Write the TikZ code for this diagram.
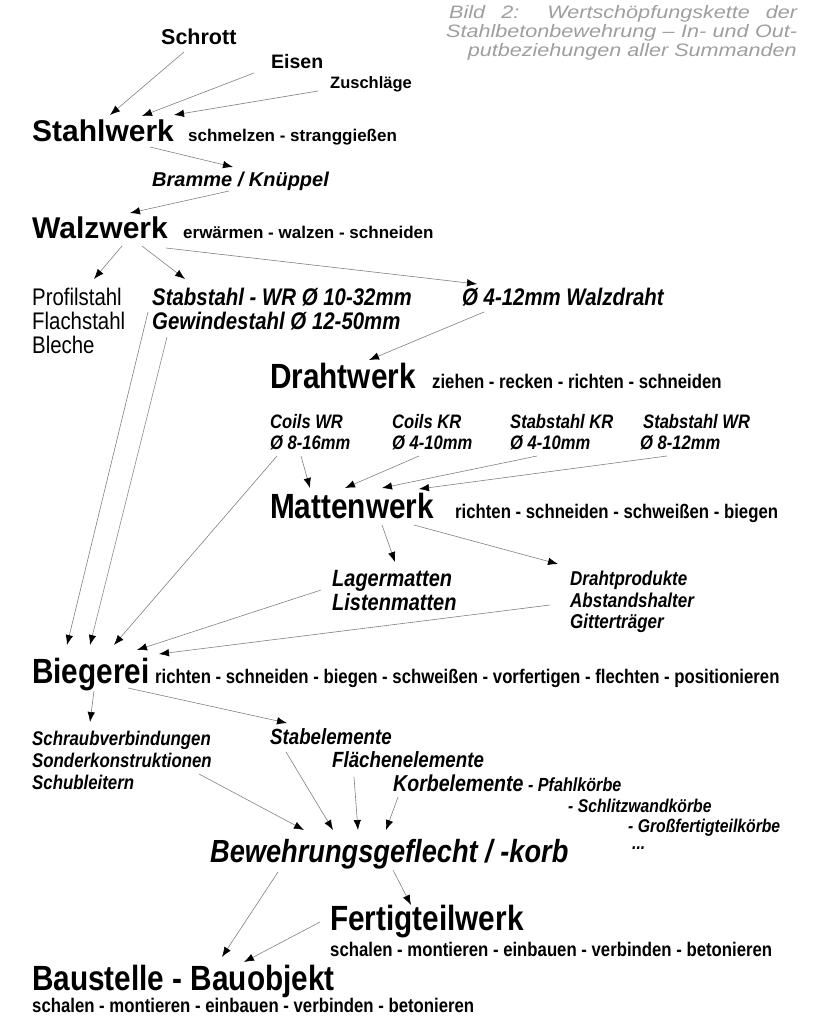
\documentclass[tikz,border=0pt]{standalone}
\usepackage{fontspec}
\setmainfont{Liberation Sans}
\newfontfamily\narrowsans[FakeStretch=0.85]{Liberation Sans}
\newfontfamily\captionsans[FakeStretch=1.2]{Liberation Sans}
\usetikzlibrary{arrows.meta}
\tikzset{
  > = {Latex[length=10pt, width=7.5pt, color=black]},
  lbl/.style = {anchor=base west, inner sep=0pt},
  flow/.style = {->, draw=black!50, line width=0.6pt},
  plant/.style = {lbl, font=\bfseries\fontsize{30}{32}\selectfont},
  nplant/.style = {lbl, font=\narrowsans\bfseries\fontsize{35}{38}\selectfont},
  tasks/.style = {lbl, font=\bfseries\fontsize{17}{19}\selectfont},
  ntasks/.style = {lbl, font=\narrowsans\bfseries\fontsize{19.7}{21}\selectfont},
  feed/.style = {lbl, font=\bfseries\fontsize{#1}{#1}\selectfont},
  product/.style = {lbl, font=\bfseries\itshape\fontsize{#1}{#1}\selectfont},
  nproduct/.style = {lbl, font=\narrowsans\bfseries\itshape\fontsize{#1}{#1}\selectfont},
  nplain/.style = {lbl, font=\narrowsans\fontsize{24}{26}\selectfont},
  captext/.style = {lbl, text=black!38, font=\captionsans\itshape\fontsize{18}{20}\selectfont},
}

\begin{document}
\begin{tikzpicture}[x=1pt, y=-1pt]
  \useasboundingbox (0,0) rectangle (819,1018);

  %% caption
  \node[captext] (cap1) at (449,18) {\makebox[348pt][s]{Bild 2: Wertschöpfungskette der}};
  \node[captext] (cap2) at (446,37) {\makebox[351pt][s]{Stahlbetonbewehrung – In- und Out-}};
  \node[captext, anchor=base east] (cap3) at (797,56) {putbeziehungen aller Summanden};

  % steel plant and its inputs
  \node[feed=21.5] (schrott) at (161,44) {Schrott};
  \node[feed=19.5] (eisen) at (271,68) {Eisen};
  \node[feed=16.5] (zuschlag) at (330,88) {Zuschläge};
  \node[plant] (stahlwerk) at (32,141) {Stahlwerk};
  \node[tasks] (stahlwerkT) at (188,141) {schmelzen - stranggießen};
  \node[product=20] (bramme) at (152,186) {Bramme / Knüppel};

  % rolling mill
  \node[plant] (walzwerk) at (32,238) {Walzwerk};
  \node[tasks] (walzwerkT) at (183,238) {erwärmen - walzen - schneiden};
  \node[nplain] (profil) at (32,305) {Profilstahl};
  \node[nplain] (flach) at (32,329) {Flachstahl};
  \node[nplain] (bleche) at (32,353) {Bleche};
  \node[nproduct=24] (stabstahl) at (152,305) {Stabstahl - WR Ø 10-32mm};
  \node[nproduct=24] (gewinde) at (152,329) {Gewindestahl Ø 12-50mm};
  \node[nproduct=24] (walzdraht) at (462,305) {Ø 4-12mm Walzdraht};

  % wire mill
  \node[nplant] (drahtwerk) at (270,388) {Drahtwerk};
  \node[ntasks] (drahtwerkT) at (432,388) {ziehen - recken - richten - schneiden};
  \node[nproduct=19.5] (coilsWR) at (270,428) {Coils WR};
  \node[nproduct=19.5] (coilsWRd) at (270,449) {Ø 8-16mm};
  \node[nproduct=19.5] (coilsKR) at (392,428) {Coils KR};
  \node[nproduct=19.5] (coilsKRd) at (392,449) {Ø 4-10mm};
  \node[nproduct=19.5] (stabKR) at (510,428) {Stabstahl KR};
  \node[nproduct=19.5] (stabKRd) at (510,449) {Ø 4-10mm};
  \node[nproduct=19.5] (stabWR) at (643,428) {Stabstahl WR};
  \node[nproduct=19.5] (stabWRd) at (640,449) {Ø 8-12mm};

  % mesh plant
  \node[nplant] (mattenwerk) at (270,518) {Mattenwerk};
  \node[ntasks] (mattenwerkT) at (455,518) {richten - schneiden - schweißen - biegen};
  \node[nproduct=23.5] (lager) at (332,586) {Lagermatten};
  \node[nproduct=23.5] (listen) at (332,610) {Listenmatten};
  \node[nproduct=20] (drahtprod) at (570,585) {Drahtprodukte};
  \node[nproduct=20] (abstand) at (570,607) {Abstandshalter};
  \node[nproduct=20] (gitter) at (570,628) {Gitterträger};

  % bending shop
  \node[nplant] (biegerei) at (32,683) {Biegerei};
  \node[ntasks] (biegereiT) at (155,683) {richten - schneiden - biegen - schweißen - vorfertigen - flechten - positionieren};
  \node[nproduct=19.8] (schraub) at (32,745) {Schraubverbindungen};
  \node[nproduct=19.8] (sonder) at (32,767) {Sonderkonstruktionen};
  \node[nproduct=19.8] (schub) at (32,789) {Schubleitern};
  \node[nproduct=22] (stabel) at (270,744) {Stabelemente};
  \node[nproduct=22] (flaechen) at (332,767) {Flächenelemente};
  \node[nproduct=23] (korb) at (393,791) {Korbelemente{\fontsize{19}{20}\selectfont{} - Pfahlkörbe}};
  \node[nproduct=18.5] (schlitz) at (568,812) {- Schlitzwandkörbe};
  \node[nproduct=18.5] (gross) at (628,832) {- Großfertigteilkörbe};
  \node[nproduct=18.5] (more) at (632,849) {...};

  % cage, precast plant and site
  \node[nproduct=32] (geflecht) at (210,862) {Bewehrungsgeflecht / -korb};
  \node[nplant] (fertig) at (330,930) {Fertigteilwerk};
  \node[ntasks] (fertigT) at (330,956) {schalen - montieren - einbauen - verbinden - betonieren};
  \node[nplant] (baustelle) at (32,990) {Baustelle - Bauobjekt};
  \node[ntasks] (baustelleT) at (32,1012) {schalen - montieren - einbauen - verbinden - betonieren};

  % draw flows
  \draw[flow] ([shift={(23,8)}]schrott.base west) -- ([shift={(78,-26)}]stahlwerk.base west);
  \draw[flow] ([shift={(-17,5)}]eisen.base west) -- ([shift={(110,-25)}]stahlwerk.base west);
  \draw[flow] ([shift={(-12,3)}]zuschlag.base west) -- ([shift={(142,-26)}]stahlwerk.base west);
  \draw[flow] ([shift={(118,6)}]stahlwerk.base west) -- ([shift={(81,-19)}]bramme.base west);
  \draw[flow] ([shift={(77,5)}]bramme.base west) -- ([shift={(98,-25)}]walzwerk.base west);
  \draw[flow] ([shift={(90,8)}]walzwerk.base west) -- ([shift={(62,-26)}]profil.base west);
  \draw[flow] ([shift={(110,8)}]walzwerk.base west) -- ([shift={(33,-26)}]stabstahl.base west);
  \draw[flow] ([shift={(134,10)}]walzwerk.base west) -- ([shift={(15,-21)}]walzdraht.base west);
  \draw[flow] ([shift={(22,7)}]walzdraht.base west) -- ([shift={(99,-28)}]drahtwerk.base west);

  \draw[flow] ([shift={(-4,7)}]stabstahl.base west) -- ([shift={(35,-38)}]biegerei.base west);
  \draw[flow] ([shift={(15,8)}]gewinde.base west) -- ([shift={(58,-38)}]biegerei.base west);
  \draw[flow] ([shift={(7,7)}]coilsWRd.base west) -- ([shift={(82,-38)}]biegerei.base west);
  \draw[flow] ([shift={(31,7)}]coilsWRd.base west) -- ([shift={(40,-30)}]mattenwerk.base west);
  \draw[flow] ([shift={(27,7)}]coilsKRd.base west) -- ([shift={(75,-30)}]mattenwerk.base west);
  \draw[flow] ([shift={(27,7)}]stabKRd.base west) -- ([shift={(112,-30)}]mattenwerk.base west);
  \draw[flow] ([shift={(27,7)}]stabWRd.base west) -- ([shift={(149,-29)}]mattenwerk.base west);
  \draw[flow] ([shift={(112,7)}]mattenwerk.base west) -- ([shift={(63,-24)}]lager.base west);
  \draw[flow] ([shift={(144,7)}]mattenwerk.base west) -- ([shift={(-12,-21)}]drahtprod.base west);
  \draw[flow] ([shift={(-11,4)}]lager.base west) -- ([shift={(105,-33)}]biegerei.base west);
  \draw[flow] ([shift={(-20,-2)}]abstand.base west) -- ([shift={(127,-29)}]biegerei.base west);

  \draw[flow] ([shift={(62,8)}]biegerei.base west) -- ([shift={(58,-23)}]schraub.base west);
  \draw[flow] ([shift={(96,5)}]biegerei.base west) -- ([shift={(17,-21)}]stabel.base west);
  \draw[flow] ([shift={(167,7)}]sonder.base west) -- ([shift={(94,-32)}]geflecht.base west);
  \draw[flow] ([shift={(16,8)}]stabel.base west) -- ([shift={(123,-32)}]geflecht.base west);
  \draw[flow] ([shift={(22,10)}]flaechen.base west) -- ([shift={(148,-32)}]geflecht.base west);
  \draw[flow] ([shift={(5,6)}]korb.base west) -- ([shift={(176,-32)}]geflecht.base west);
  \draw[flow] ([shift={(68,10)}]geflecht.base west) -- ([shift={(190,-33)}]baustelle.base west);
  \draw[flow] ([shift={(183,8)}]geflecht.base west) -- ([shift={(81,-25)}]fertig.base west);
  \draw[flow] ([shift={(-10,-8)}]fertig.base west) -- ([shift={(212,-28)}]baustelle.base west);
\end{tikzpicture}
\end{document}
